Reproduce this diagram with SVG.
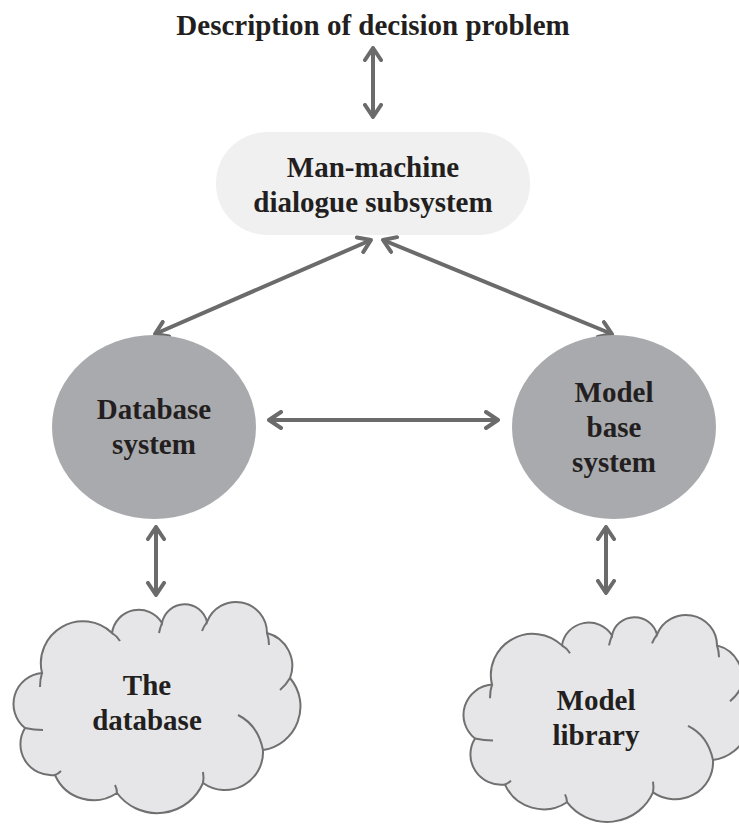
<svg xmlns="http://www.w3.org/2000/svg" width="739" height="825" viewBox="0 0 739 825">
  <defs>
    <style>
      .t { font-family: "Liberation Serif", "Times New Roman", serif; font-weight: bold; font-size: 29px; fill: #231f20; text-anchor: middle; }
      .con { stroke: #6b6b6b; stroke-width: 4; fill: none; marker-start: url(#ah); marker-end: url(#ah); }
      .cloud { fill: #e6e6e8; stroke: #707070; stroke-width: 2; }
      .inner { fill: none; stroke: #707070; stroke-width: 2; }
      .ell { fill: #a9aaad; }
    </style>
    <marker id="ah" viewBox="0 0 16 20" refX="14" refY="10" markerWidth="16" markerHeight="20" markerUnits="userSpaceOnUse" orient="auto-start-reverse">
      <path d="M2,2 L14,10 L2,18" fill="none" stroke="#6b6b6b" stroke-width="4" stroke-linecap="round" stroke-linejoin="round"/>
    </marker>
    <g id="cloudShape">
      <path class="cloud" d="M29,70 A42,42 0 0 1 99,30 A27,27 0 0 1 149,20 A23,23 0 0 1 194,19 A31,31 0 0 1 254,30 A34,34 0 0 1 277,75 A44,44 0 0 1 250,147 A38,38 0 0 1 190,180 A50,50 0 0 1 104,190 A42,42 0 0 1 42,172 A31,31 0 0 1 12,125 A31,31 0 0 1 29,70 Z"/>
      <path class="inner" d="M27,84 Q27,76 29,70"/>
      <path class="inner" d="M99,30 Q104,33 107,38"/>
      <path class="inner" d="M149,20 Q147,25 146,30"/>
      <path class="inner" d="M194,19 Q191,23 189,28"/>
      <path class="inner" d="M254,30 Q256,36 256,42"/>
      <path class="inner" d="M277,75 Q273,82 267,87"/>
      <path class="inner" d="M225,112 Q245,122 250,147"/>
      <path class="inner" d="M190,180 Q191,175 190,169"/>
      <path class="inner" d="M104,190 Q104,186 102,182"/>
      <path class="inner" d="M42,172 Q45,171 48,168"/>
      <path class="inner" d="M12,125 Q21,127 30,127"/>
    </g>
  </defs>
  <rect width="739" height="825" fill="#ffffff"/>

  <g id="connectors">
    <line class="con" x1="373" y1="48" x2="373" y2="117"/>
    <line class="con" x1="371" y1="240" x2="155" y2="334"/>
    <line class="con" x1="383" y1="240" x2="612" y2="334"/>
    <line class="con" x1="269" y1="420" x2="498" y2="420"/>
    <line class="con" x1="156" y1="527" x2="156" y2="595"/>
    <line class="con" x1="606" y1="527" x2="606" y2="593"/>
  </g>

  <g id="title">
    <text class="t" x="373" y="35">Description of decision problem</text>
  </g>

  <g id="dialogue">
    <rect x="216" y="132" width="314" height="103" rx="51" ry="51" fill="#f0f0f1"/>
    <text class="t" x="373" y="177">Man-machine</text>
    <text class="t" x="373" y="212">dialogue subsystem</text>
  </g>

  <g id="database-system">
    <ellipse class="ell" cx="154" cy="427" rx="102" ry="92"/>
    <text class="t" x="154" y="419">Database</text>
    <text class="t" x="154" y="454">system</text>
  </g>

  <g id="model-base-system">
    <ellipse class="ell" cx="614" cy="427" rx="102" ry="92"/>
    <text class="t" x="614" y="402">Model</text>
    <text class="t" x="614" y="437">base</text>
    <text class="t" x="614" y="472">system</text>
  </g>

  <g id="the-database">
    <use href="#cloudShape" transform="translate(13,603)"/>
    <text class="t" x="147" y="695">The</text>
    <text class="t" x="147" y="730">database</text>
  </g>

  <g id="model-library">
    <use href="#cloudShape" transform="translate(463,616) scale(1,0.98)"/>
    <text class="t" x="596" y="710">Model</text>
    <text class="t" x="596" y="745">library</text>
  </g>
</svg>
